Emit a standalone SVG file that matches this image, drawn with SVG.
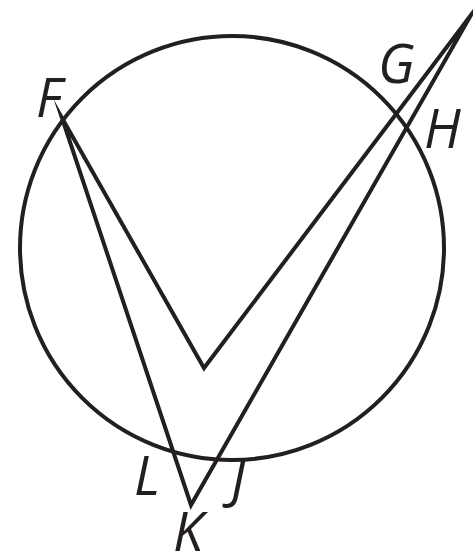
<svg xmlns="http://www.w3.org/2000/svg" width="473" height="560" viewBox="0 0 473 560">
<style>
.ln{fill:none;stroke:#231f20;stroke-width:4;stroke-linejoin:miter;stroke-miterlimit:40}
.lb{font-family:"Open Sans","Noto Sans",sans-serif;font-style:italic;font-size:54px;fill:#231f20}
</style>
<rect width="473" height="560" fill="#fff"/>
<g id="circle"><circle class="ln" cx="232" cy="248" r="212"/></g>
<g id="connectors">
<polygon class="ln" points="62,118 204,368 471,15 191,505"/>
</g>
<g id="F"><text class="lb" x="36" y="117">F</text></g>
<g id="G"><text class="lb" x="378" y="83">G</text></g>
<g id="H"><text class="lb" x="424" y="148">H</text></g>
<g id="L"><text class="lb" x="134" y="495">L</text></g>
<g id="J"><text class="lb" x="231" y="497">J</text></g>
<g id="K"><text class="lb" x="173" y="551" font-size="50">K</text></g>
</svg>
